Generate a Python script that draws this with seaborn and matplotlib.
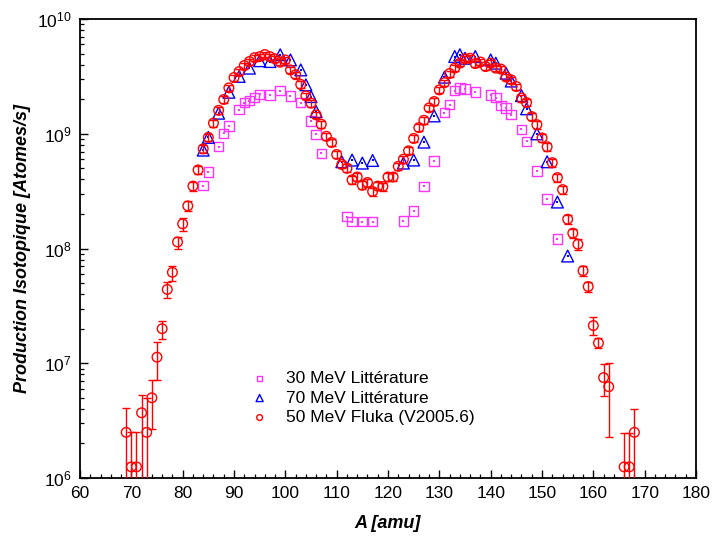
import numpy as np
import pandas as pd
import matplotlib
matplotlib.use("Agg")
import matplotlib.pyplot as plt
from matplotlib.ticker import MultipleLocator, LogLocator, NullFormatter
import seaborn as sns

# ---------------- data ----------------
# 30 MeV Littérature (squares)
A_30 = [84, 85, 87, 88, 89, 91, 92, 93, 94, 95, 97, 99, 101, 103, 105, 106, 107,
        112, 113, 115, 117, 123, 125, 127, 129, 131, 132, 133, 134, 135, 137,
        140, 141, 142, 143, 144, 146, 147, 149, 151, 153]
Y_30 = [3.53e8, 4.63e8, 7.7e8, 1.01e9, 1.17e9, 1.62e9, 1.87e9, 1.94e9, 2.07e9, 2.21e9,
        2.17e9, 2.38e9, 2.14e9, 1.87e9, 1.29e9, 9.9e8, 6.76e8,
        1.9e8, 1.71e8, 1.71e8, 1.71e8, 1.74e8, 2.13e8, 3.47e8, 5.8e8, 1.53e9, 1.79e9,
        2.38e9, 2.5e9, 2.45e9, 2.31e9, 2.18e9, 2.06e9, 1.77e9, 1.68e9, 1.47e9,
        1.09e9, 8.6e8, 4.75e8, 2.69e8, 1.21e8]

# 70 MeV Littérature (triangles)
A_70 = [84, 85, 87, 89, 91, 93, 95, 97, 99, 101, 103, 104, 105, 106,
        111, 113, 115, 117, 123, 125, 127, 129, 131, 133, 134, 135, 137,
        140, 141, 143, 144, 146, 147, 149, 151, 153, 155]
Y_70 = [7.2e8, 9.3e8, 1.51e9, 2.3e9, 3.16e9, 3.73e9, 4.33e9, 4.26e9, 4.88e9, 4.4e9,
        3.6e9, 2.67e9, 2.11e9, 1.56e9,
        5.7e8, 5.9e8, 5.55e8, 5.85e8, 5.55e8, 5.9e8, 8.45e8, 1.43e9, 3.11e9, 4.71e9,
        4.88e9, 4.55e9, 4.71e9, 4.4e9, 4.12e9, 3.37e9, 2.88e9, 2.15e9, 1.65e9,
        9.98e8, 5.7e8, 2.54e8, 8.6e7]

# 50 MeV Fluka (V2005.6) (circles with error bars)
A_FL = [69, 70, 71, 72, 73, 74, 75, 76, 77, 78, 79, 80, 81, 82, 83, 84, 85, 86, 87, 88,
        89, 90, 91, 92, 93, 94, 95, 96, 97, 98, 99, 100, 101, 102, 103, 104, 105, 106,
        107, 108, 109, 110, 111, 112, 113, 114, 115, 116, 117, 118, 119, 120, 121, 122,
        123, 124, 125, 126, 127, 128, 129, 130, 131, 132, 133, 134, 135, 136, 137, 138,
        139, 140, 141, 142, 143, 144, 145, 146, 147, 148, 149, 150, 151, 152, 153, 154,
        155, 156, 157, 158, 159, 160, 161, 162, 163, 166, 167, 168]
Y_FL = [2.5e6, 1.25e6, 1.25e6, 3.7e6, 2.5e6, 5.0e6, 1.13e7, 2.0e7, 4.4e7, 6.2e7,
        1.14e8, 1.64e8, 2.35e8, 3.5e8, 4.84e8, 7.4e8, 9.3e8, 1.24e9, 1.6e9, 1.99e9,
        2.51e9, 3.09e9, 3.48e9, 3.93e9, 4.26e9, 4.6e9, 4.7e9, 4.9e9, 4.7e9, 4.5e9,
        4.2e9, 4.4e9, 3.6e9, 3.27e9, 2.69e9, 2.14e9, 1.85e9, 1.46e9, 1.21e9, 9.5e8,
        8.4e8, 6.6e8, 5.4e8, 5.0e8, 3.97e8, 4.2e8, 3.56e8, 3.76e8, 3.14e8, 3.5e8,
        3.47e8, 4.2e8, 4.2e8, 5.2e8, 6.0e8, 7.1e8, 9.1e8, 1.13e9, 1.31e9, 1.68e9,
        1.91e9, 2.41e9, 2.79e9, 3.35e9, 3.73e9, 4.12e9, 4.5e9, 4.55e9, 4.09e9, 4.22e9,
        3.85e9, 4.12e9, 3.73e9, 3.66e9, 3.12e9, 2.95e9, 2.58e9, 2.05e9, 1.87e9, 1.41e9,
        1.2e9, 9.2e8, 7.7e8, 5.6e8, 4.15e8, 3.26e8, 1.8e8, 1.36e8, 1.09e8, 6.4e7,
        4.66e7, 2.13e7, 1.5e7, 7.5e6, 6.25e6, 1.25e6, 1.25e6, 2.5e6]
# lower / upper ends of the Fluka error bars
LO_FL = [1e5, 1e5, 1e5, 1e5, 1e5, 2.67e6, 7.1e6, 1.62e7, 3.7e7, 5.2e7,
         9.9e7, 1.43e8, 2.12e8, 3.2e8, 4.45e8, 6.85e8, 8.6e8, 1.15e9, 1.49e9, 1.86e9,
         2.35e9, 2.9e9, 3.27e9, 3.7e9, 4.01e9, 4.33e9, 4.43e9, 4.62e9, 4.43e9, 4.24e9,
         3.95e9, 4.14e9, 3.38e9, 3.07e9, 2.52e9, 2.0e9, 1.72e9, 1.36e9, 1.12e9, 8.8e8,
         7.8e8, 6.1e8, 4.98e8, 4.6e8, 3.65e8, 3.86e8, 3.27e8, 3.45e8, 2.88e8, 3.21e8,
         3.19e8, 3.86e8, 3.86e8, 4.8e8, 5.55e8, 6.6e8, 8.5e8, 1.05e9, 1.22e9, 1.57e9,
         1.79e9, 2.26e9, 2.62e9, 3.15e9, 3.51e9, 3.88e9, 4.24e9, 4.29e9, 3.85e9, 3.97e9,
         3.62e9, 3.88e9, 3.51e9, 3.44e9, 2.93e9, 2.77e9, 2.42e9, 1.91e9, 1.74e9, 1.31e9,
         1.11e9, 8.5e8, 7.1e8, 5.15e8, 3.8e8, 2.98e8, 1.64e8, 1.23e8, 9.8e7, 5.8e7,
         4.2e7, 1.77e7, 1.35e7, 5.2e6, 2.29e6, 1e5, 1e5, 1e5]
HI_FL = [4.05e6, 2.5e6, 2.5e6, 5.3e6, 5.0e6, 7.1e6, 1.53e7, 2.35e7, 5.1e7, 7.1e7,
         1.26e8, 1.84e8, 2.58e8, 3.8e8, 5.23e8, 7.95e8, 1.0e9, 1.33e9, 1.71e9, 2.12e9,
         2.67e9, 3.28e9, 3.69e9, 4.16e9, 4.51e9, 4.87e9, 4.97e9, 5.18e9, 4.97e9, 4.76e9,
         4.45e9, 4.66e9, 3.82e9, 3.47e9, 2.86e9, 2.28e9, 1.98e9, 1.56e9, 1.3e9, 1.02e9,
         9.0e8, 7.1e8, 5.82e8, 5.4e8, 4.29e8, 4.54e8, 3.85e8, 4.07e8, 3.4e8, 3.79e8,
         3.75e8, 4.54e8, 4.54e8, 5.6e8, 6.45e8, 7.6e8, 9.7e8, 1.21e9, 1.4e9, 1.79e9,
         2.03e9, 2.56e9, 2.96e9, 3.55e9, 3.95e9, 4.36e9, 4.76e9, 4.81e9, 4.33e9, 4.47e9,
         4.08e9, 4.36e9, 3.95e9, 3.88e9, 3.31e9, 3.13e9, 2.74e9, 2.19e9, 2.0e9, 1.51e9,
         1.29e9, 9.9e8, 8.3e8, 6.05e8, 4.5e8, 3.54e8, 1.96e8, 1.49e8, 1.2e8, 7.0e7,
         5.1e7, 2.52e7, 1.65e7, 9.8e6, 1.01e7, 2.48e6, 2.48e6, 4.0e6]

LABEL_30 = "30 MeV Littérature"
LABEL_70 = "70 MeV Littérature"
LABEL_FL = "50 MeV Fluka (V2005.6)"
XLABEL = "A [amu]"
YLABEL = "Production Isotopique [Atomes/s]"
XTICKS = [60, 70, 80, 90, 100, 110, 120, 130, 140, 150, 160, 170, 180]

# ---------------- style ----------------
sns.set_theme(style="ticks")
plt.rcParams["font.family"] = ["Liberation Sans", "DejaVu Sans"]
plt.rcParams["mathtext.fontset"] = "custom"
plt.rcParams["mathtext.rm"] = "Liberation Sans"
plt.rcParams["mathtext.default"] = "regular"
plt.rcParams["text.color"] = "black"
plt.rcParams["axes.labelcolor"] = "black"
plt.rcParams["xtick.color"] = "black"
plt.rcParams["ytick.color"] = "black"

C30 = "#FF33FF"
C70 = "#0000FF"
CFL = "#FF0000"

fig = plt.figure(figsize=(7.13, 5.41), dpi=100)
ax = fig.add_axes([80 / 713, 1 - 478 / 541, (696 - 80) / 713, (478 - 19) / 541])

df30 = pd.DataFrame({"A": A_30, "Y": Y_30})
df70 = pd.DataFrame({"A": A_70, "Y": Y_70})
dffl = pd.DataFrame({"A": A_FL, "Y": Y_FL, "lo": LO_FL, "hi": HI_FL})

# squares
sns.scatterplot(data=df30, x="A", y="Y", ax=ax, marker="s", s=46,
                color=C30, facecolors="none", edgecolors=C30, linewidth=1.0,
                label=LABEL_30, zorder=3)
sns.scatterplot(data=df30, x="A", y="Y", ax=ax, marker="s", s=1.2,
                color=C30, edgecolors=C30, linewidth=0, legend=False, zorder=3)
# triangles
sns.scatterplot(data=df70, x="A", y="Y", ax=ax, marker="^", s=72,
                color=C70, facecolors="none", edgecolors=C70, linewidth=1.0,
                label=LABEL_70, zorder=4)
sns.scatterplot(data=df70, x="A", y="Y", ax=ax, marker="s", s=1.2,
                color=C70, edgecolors=C70, linewidth=0, legend=False, zorder=4)
# Fluka error bars + circles
yerr = np.vstack([dffl["Y"] - dffl["lo"], dffl["hi"] - dffl["Y"]])
ax.errorbar(dffl["A"], dffl["Y"], yerr=yerr, fmt="none", ecolor=CFL,
            elinewidth=1.0, capsize=3.2, capthick=1.0, zorder=5)
sns.scatterplot(data=dffl, x="A", y="Y", ax=ax, marker="o", s=48,
                color=CFL, facecolors="none", edgecolors=CFL, linewidth=1.0,
                label=LABEL_FL, zorder=6)

# ---------------- axes ----------------
ax.set_yscale("log")
ax.set_xlim(60, 180)
ax.set_ylim(1e6, 1e10)
ax.set_xticks(XTICKS)
ax.xaxis.set_minor_locator(MultipleLocator(2))
ax.yaxis.set_major_locator(LogLocator(base=10, numticks=10))
ax.yaxis.set_minor_locator(LogLocator(base=10, subs=np.arange(2, 10), numticks=20))
ax.yaxis.set_minor_formatter(NullFormatter())
ax.tick_params(axis="both", which="major", direction="in", length=6, width=1.0,
               labelsize=12.5, colors="black", pad=6, top=False, right=False)
ax.tick_params(axis="both", which="minor", direction="in", length=3.2, width=0.9,
               top=False, right=False)
for sp in ax.spines.values():
    sp.set_visible(True)
    sp.set_color("black")
    sp.set_linewidth(1.3)
ax.grid(False)

ax.set_xlabel(XLABEL, fontsize=13, fontweight="bold", fontstyle="italic",
              labelpad=10, color="black")
ax.set_ylabel(YLABEL, fontsize=13, fontweight="bold", fontstyle="italic",
              labelpad=4, color="black")

leg = ax.legend(loc="upper left", bbox_to_anchor=(244 / 713, 1 - 364 / 541),
                bbox_transform=fig.transFigure, frameon=False, fontsize=12.5,
                markerscale=0.6, handlelength=1.0, handletextpad=1.0,
                labelspacing=0.25, borderaxespad=0)
for t in leg.get_texts():
    t.set_color("black")
for h in leg.legend_handles:
    try:
        h.set_facecolor("none")
    except Exception:
        pass

fig.savefig("out.png", dpi=100)
